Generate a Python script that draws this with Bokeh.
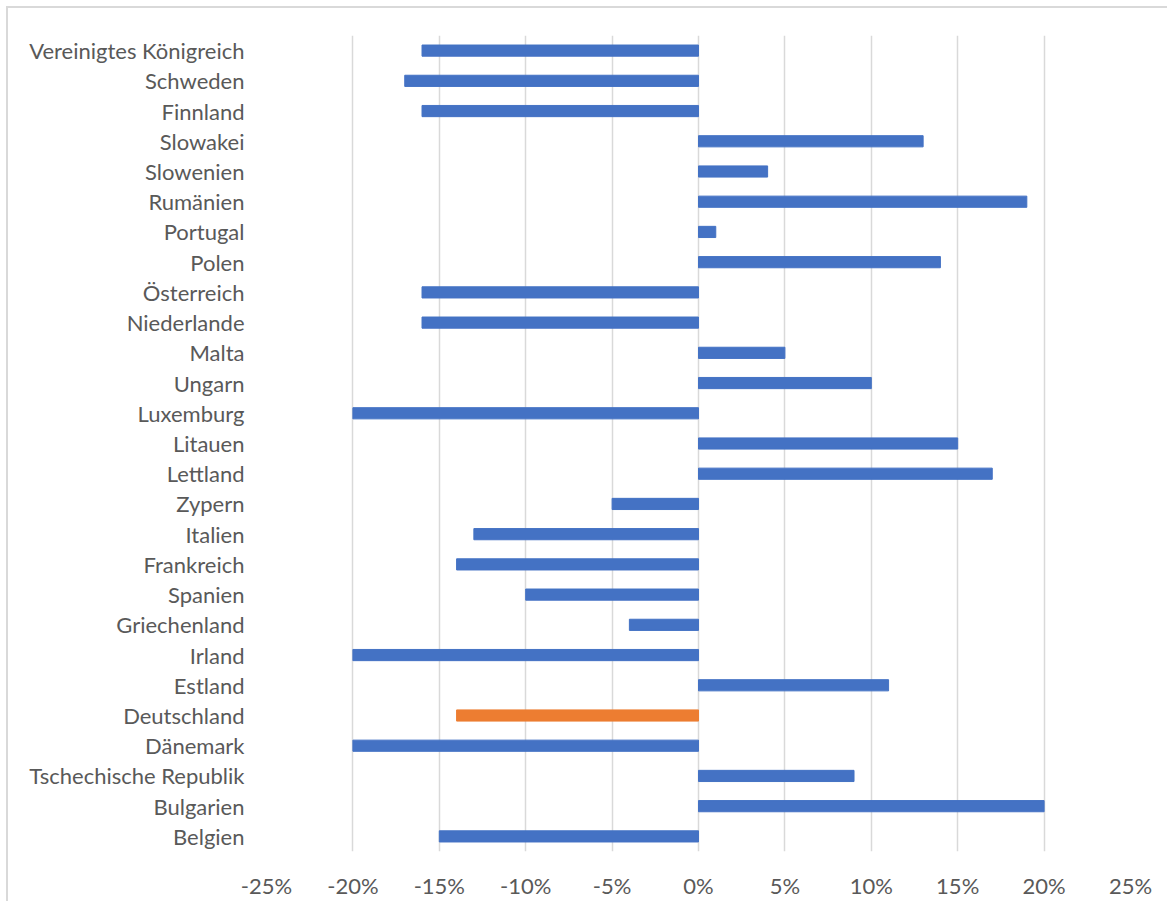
from bokeh.plotting import figure
from bokeh.models import FactorRange, Range1d, FixedTicker, PrintfTickFormatter, ColumnDataSource
from bokeh.embed import file_html
from bokeh.resources import INLINE

# Data (bottom to top)
countries = ["Belgien", "Bulgarien", "Tschechische Republik", "Dänemark", "Deutschland",
             "Estland", "Irland", "Griechenland", "Spanien", "Frankreich", "Italien",
             "Zypern", "Lettland", "Litauen", "Luxemburg", "Ungarn", "Malta",
             "Niederlande", "Österreich", "Polen", "Portugal", "Rumänien", "Slowenien",
             "Slowakei", "Finnland", "Schweden", "Vereinigtes Königreich"]
changes = [-15, 20, 9, -20, -14, 11, -20, -4, -10, -14, -13, -5, 17, 15, -20, 10, 5,
           -16, -16, 14, 1, 19, 4, 13, -16, -17, -16]
highlight = "Deutschland"
x_ticks = [-25, -20, -15, -10, -5, 0, 5, 10, 15, 20, 25]

BLUE = "#4472C4"
ORANGE = "#ED7D31"
TEXT = "#595959"
FONT = "Lato"
BORDER = "#d9d9d9"

colors = [ORANGE if c == highlight else BLUE for c in countries]
src = ColumnDataSource(dict(y=countries, right=changes, color=colors))

p = figure(width=1167, height=901, output_backend="svg", toolbar_location=None,
           y_range=FactorRange(*countries, range_padding=0),
           x_range=Range1d(-25, 25),
           min_border_left=266, min_border_right=37, min_border_top=35, min_border_bottom=49)

# chart-area border (only top and left edges are visible in the reference crop)
p.border_fill_color = None
p.background_fill_color = "white"
p.styles = {
    "background": (f"linear-gradient({BORDER},{BORDER}) 6px 6px / 100% 2px no-repeat, "
                   f"linear-gradient({BORDER},{BORDER}) 6px 6px / 2px 100% no-repeat, white"),
}

p.hbar(y="y", left=0, right="right", height=0.37, color="color", source=src)

p.outline_line_color = None
p.ygrid.grid_line_color = None
p.xgrid.grid_line_color = "#d9d9d9"
p.xgrid.grid_line_width = 1.5

p.xaxis.ticker = FixedTicker(ticks=x_ticks)
p.xaxis.formatter = PrintfTickFormatter(format="%d%%")
for ax in (p.xaxis, p.yaxis):
    ax.axis_line_color = None
    ax.major_tick_line_color = None
    ax.minor_tick_line_color = None
    ax.major_tick_in = 0
    ax.major_tick_out = 0
    ax.major_label_text_color = TEXT
    ax.major_label_text_font = FONT
    ax.major_label_text_font_size = "22px"
p.xaxis.major_label_standoff = 20
p.yaxis.major_label_standoff = 22

open("out.html", "w").write(file_html(p, INLINE))
